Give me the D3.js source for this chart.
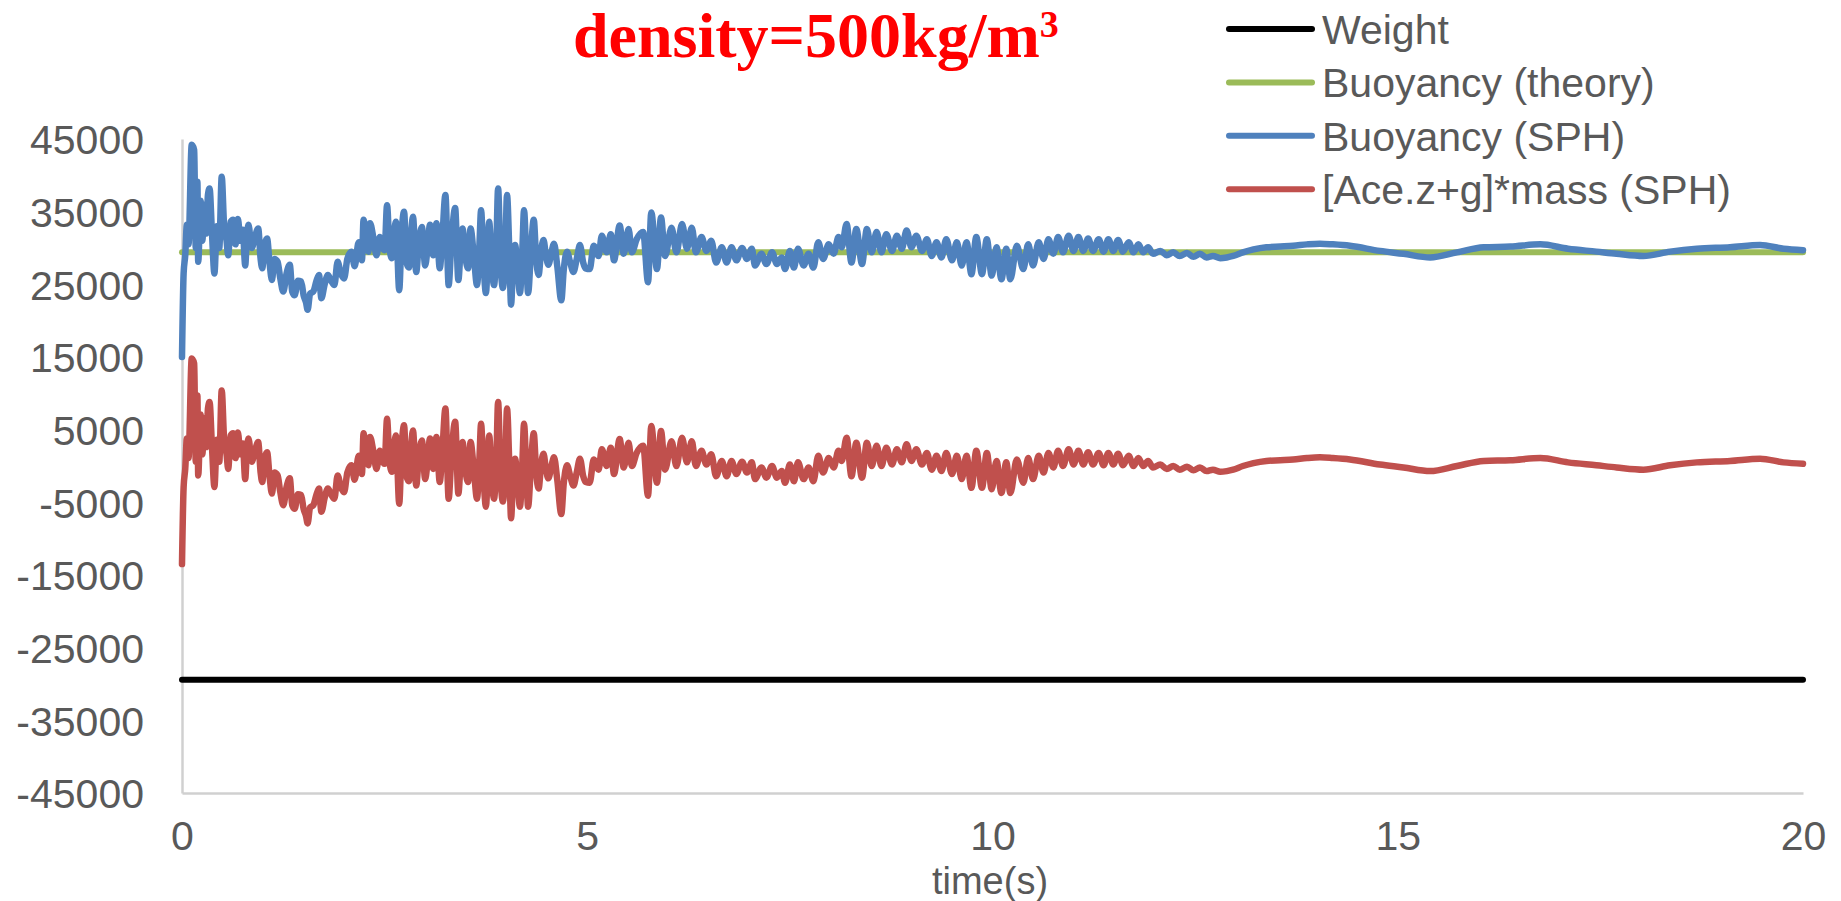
<!DOCTYPE html>
<html>
<head>
<meta charset="utf-8">
<script src="https://cdn.jsdelivr.net/npm/d3@7"></script>
<style>
  html, body { margin: 0; padding: 0; background: #ffffff; }
  svg { display: block; }
</style>
</head>
<body>
<svg id="chart" width="1841" height="901"></svg>
<script>
// Force acting on a floating body, density 500 kg/m3 (time in s, force in N)

const xTicks = [0, 5, 10, 15, 20];
const yTicks = [45000, 35000, 25000, 15000, 5000, -5000, -15000, -25000, -35000, -45000];

const seriesNames = ["Weight", "Buoyancy (theory)", "Buoyancy (SPH)", "[Ace.z+g]*mass (SPH)"];
const seriesColors = ["#000000", "#9BBB59", "#4F81BD", "#C0504D"];

// constant forces over the whole run
const weight = [[0, -29430], [20, -29430]];
const buoyancyTheory = [[0, 29430], [20, 29430]];

// SPH buoyancy [t, N]
const buoyancySPH = [
  [0, 15000], [0.02, 26500], [0.04, 29000], [0.06, 33200], [0.08, 30500], [0.12, 44200], [0.15, 43500], [0.17, 30000],
  [0.19, 39100], [0.20, 28100], [0.23, 36500], [0.25, 31000], [0.28, 36000], [0.30, 32000], [0.32, 37300], [0.34, 38200],
  [0.37, 32000], [0.40, 26500], [0.43, 33000], [0.46, 30000], [0.49, 39800], [0.52, 33000], [0.55, 31000], [0.57, 29000],
  [0.60, 33600], [0.63, 33900], [0.66, 30500], [0.69, 34000], [0.72, 31000], [0.75, 32500], [0.78, 27600], [0.80, 31500],
  [0.82, 33200], [0.86, 30000], [0.90, 31500], [0.94, 32700], [0.97, 28500], [0.99, 27200], [1.02, 30500], [1.05, 31300],
  [1.08, 28000], [1.11, 25600], [1.14, 28500], [1.18, 28100], [1.21, 26000], [1.25, 24000], [1.29, 26500], [1.33, 27700],
  [1.36, 24000], [1.39, 23500], [1.43, 25500], [1.47, 25400], [1.50, 23500], [1.53, 22500], [1.55, 21500], [1.58, 23700],
  [1.62, 24000], [1.66, 25500], [1.69, 26300], [1.72, 23100], [1.76, 25000], [1.80, 26300], [1.84, 25500], [1.88, 24900],
  [1.92, 28100], [1.96, 26500], [2.00, 25800], [2.04, 28500], [2.09, 29500], [2.13, 27500], [2.18, 30800], [2.22, 28300],
  [2.24, 33900], [2.27, 30500], [2.30, 29500], [2.32, 33400], [2.36, 31500], [2.40, 29000], [2.44, 31500], [2.46, 30400],
  [2.50, 29700], [2.53, 35900], [2.56, 30000], [2.59, 28600], [2.62, 32500], [2.64, 33600], [2.68, 24200], [2.71, 32000],
  [2.74, 35000], [2.77, 28000], [2.80, 27300], [2.83, 32500], [2.85, 34300], [2.89, 26700], [2.92, 30500], [2.96, 32900],
  [3.00, 27600], [3.03, 30000], [3.06, 33200], [3.10, 29000], [3.14, 33400], [3.18, 27200], [3.21, 31000], [3.25, 37300],
  [3.29, 24900], [3.32, 30000], [3.37, 35500], [3.41, 25600], [3.44, 30500], [3.46, 32700], [3.50, 28500], [3.53, 27200],
  [3.56, 32700], [3.60, 29000], [3.64, 24900], [3.67, 30500], [3.69, 35200], [3.72, 28000], [3.75, 23800], [3.79, 33600],
  [3.82, 28000], [3.85, 24900], [3.88, 31000], [3.90, 38200], [3.93, 28000], [3.96, 24500], [3.99, 30000], [4.01, 37300],
  [4.04, 29000], [4.06, 22200], [4.09, 29500], [4.11, 30400], [4.14, 27000], [4.17, 23800], [4.20, 30000], [4.22, 35200],
  [4.25, 28000], [4.27, 23800], [4.31, 30500], [4.34, 33900], [4.37, 28500], [4.40, 26300], [4.43, 29500], [4.46, 31100],
  [4.49, 29000], [4.52, 27700], [4.56, 29500], [4.59, 30600], [4.63, 27500], [4.68, 22800], [4.71, 27000], [4.75, 29500],
  [4.79, 28000], [4.83, 26700], [4.87, 28500], [4.91, 30400], [4.95, 28000], [4.98, 27200],
  [5.03, 27100], [5.08, 30300], [5.14, 28900], [5.18, 31700], [5.24, 29400], [5.29, 31900], [5.33, 28300], [5.40, 33100],
  [5.45, 29200], [5.51, 32600], [5.55, 29400], [5.61, 31200], [5.69, 32200], [5.75, 25300], [5.79, 34900], [5.86, 27100],
  [5.91, 34200], [5.96, 28900], [6.04, 32800], [6.10, 29400], [6.17, 33300], [6.23, 29900], [6.29, 32800], [6.34, 29400],
  [6.41, 31500], [6.47, 29600], [6.53, 31000], [6.59, 28000], [6.66, 30100], [6.72, 28000], [6.78, 30100], [6.84, 28300],
  [6.91, 30000], [6.97, 28500], [7.03, 29900], [7.07, 27600], [7.15, 29200], [7.21, 27800], [7.28, 29400], [7.34, 27800],
  [7.40, 28700], [7.44, 27100], [7.50, 29600], [7.55, 27300], [7.60, 29900], [7.67, 27600], [7.73, 29200], [7.79, 27300],
  [7.85, 30800], [7.91, 28500], [7.98, 30500], [8.04, 29200], [8.10, 31500], [8.14, 30100], [8.20, 33300], [8.26, 28000],
  [8.32, 32600], [8.39, 27800], [8.45, 32600], [8.51, 29400], [8.57, 32200], [8.63, 29400], [8.69, 31900], [8.76, 29600],
  [8.82, 31700], [8.88, 29900], [8.94, 32400], [9.00, 30100], [9.06, 31700], [9.13, 29600], [9.19, 31200], [9.25, 28900],
  [9.31, 30800], [9.37, 28700], [9.43, 31200], [9.50, 28300], [9.56, 30800], [9.62, 27600], [9.68, 30800], [9.74, 26400],
  [9.80, 31500], [9.87, 26400], [9.93, 31200], [9.99, 26200], [10.05, 30100], [10.11, 25700], [10.17, 29900],
  [10.22, 25700], [10.30, 30300], [10.38, 27100], [10.44, 30500], [10.50, 27600], [10.57, 30800], [10.63, 28500], [10.69, 31200],
  [10.75, 29200], [10.81, 31500], [10.87, 29400], [10.94, 31700], [11.00, 29600], [11.06, 31500], [11.12, 29600], [11.18, 31300],
  [11.24, 29600], [11.31, 31200], [11.37, 29500], [11.43, 31200], [11.49, 29600], [11.55, 31100], [11.61, 29500], [11.68, 30800],
  [11.74, 29400], [11.80, 30500], [11.86, 29400], [11.92, 30100], [11.98, 29200], [12.07, 29600], [12.15, 29000], [12.23, 29400],
  [12.31, 28900], [12.40, 29300], [12.48, 28800], [12.56, 29200], [12.64, 28700], [12.72, 28900], [12.81, 28600], [12.89, 28700],
  [12.97, 28900], [13.09, 29400], [13.22, 29800], [13.38, 30100], [13.55, 30200], [13.71, 30300], [13.88, 30500], [14.04, 30600],
  [14.20, 30500], [14.41, 30300], [14.78, 29600], [15.07, 29200], [15.40, 28700], [15.73, 29400], [16.06, 30100], [16.39, 30200],
  [16.76, 30500], [17.10, 29900], [17.45, 29500], [17.70, 29200], [18.03, 28900], [18.36, 29500], [18.69, 29900], [19.10, 30100],
  [19.47, 30400], [19.76, 29900], [20.00, 29700]
];

// SPH net force [Ace.z+g]*mass [t, N]
const accelMass = [
  [0, -13500], [0.02, -2900], [0.04, -400], [0.06, 3800], [0.08, 1100], [0.12, 14800], [0.15, 14100], [0.17, 600],
  [0.19, 9700], [0.20, -1300], [0.23, 7100], [0.25, 1600], [0.28, 6600], [0.30, 2600], [0.32, 7900], [0.34, 8800],
  [0.37, 2600], [0.40, -2900], [0.43, 3600], [0.46, 600], [0.49, 10400], [0.52, 3600], [0.55, 1600], [0.57, -400],
  [0.60, 4200], [0.63, 4500], [0.66, 1100], [0.69, 4600], [0.72, 1600], [0.75, 3100], [0.78, -1800], [0.80, 2100],
  [0.82, 3800], [0.86, 600], [0.90, 2100], [0.94, 3300], [0.97, -900], [0.99, -2200], [1.02, 1100], [1.05, 1900],
  [1.08, -1400], [1.11, -3800], [1.14, -900], [1.18, -1300], [1.21, -3400], [1.25, -5400], [1.29, -2900], [1.33, -1700],
  [1.36, -5400], [1.39, -5900], [1.43, -3900], [1.47, -4000], [1.50, -5900], [1.53, -6900], [1.55, -7900], [1.58, -5700],
  [1.62, -5400], [1.66, -3900], [1.69, -3100], [1.72, -6300], [1.76, -4400], [1.80, -3100], [1.84, -3900], [1.88, -4500],
  [1.92, -1300], [1.96, -2900], [2.00, -3600], [2.04, -900], [2.09, 100], [2.13, -1900], [2.18, 1400], [2.22, -1100],
  [2.24, 4500], [2.27, 1100], [2.30, 100], [2.32, 4000], [2.36, 2100], [2.40, -400], [2.44, 2100], [2.46, 1000],
  [2.50, 300], [2.53, 6500], [2.56, 600], [2.59, -800], [2.62, 3100], [2.64, 4200], [2.68, -5200], [2.71, 2600],
  [2.74, 5600], [2.77, -1400], [2.80, -2100], [2.83, 3100], [2.85, 4900], [2.89, -2700], [2.92, 1100], [2.96, 3500],
  [3.00, -1800], [3.03, 600], [3.06, 3800], [3.10, -400], [3.14, 4000], [3.18, -2200], [3.21, 1600], [3.25, 7900],
  [3.29, -4500], [3.32, 600], [3.37, 6100], [3.41, -3800], [3.44, 1100], [3.46, 3300], [3.50, -900], [3.53, -2200],
  [3.56, 3300], [3.60, -400], [3.64, -4500], [3.67, 1100], [3.69, 5800], [3.72, -1400], [3.75, -5600], [3.79, 4200],
  [3.82, -1400], [3.85, -4500], [3.88, 1600], [3.90, 8800], [3.93, -1400], [3.96, -4900], [3.99, 600], [4.01, 7900],
  [4.04, -400], [4.06, -7200], [4.09, 100], [4.11, 1000], [4.14, -2400], [4.17, -5600], [4.20, 600], [4.22, 5800],
  [4.25, -1400], [4.27, -5600], [4.31, 1100], [4.34, 4500], [4.37, -900], [4.40, -3100], [4.43, 100], [4.46, 1700],
  [4.49, -400], [4.52, -1700], [4.56, 100], [4.59, 1200], [4.63, -1900], [4.68, -6600], [4.71, -2400], [4.75, 100],
  [4.79, -1400], [4.83, -2700], [4.87, -900], [4.91, 1000], [4.95, -1400], [4.98, -2200],
  [5.03, -2300], [5.08, 900], [5.14, -500], [5.18, 2300], [5.24, 0], [5.29, 2500], [5.33, -1100], [5.40, 3700],
  [5.45, -200], [5.51, 3200], [5.55, 0], [5.61, 1800], [5.69, 2800], [5.75, -4100], [5.79, 5500], [5.86, -2300],
  [5.91, 4800], [5.96, -500], [6.04, 3400], [6.10, 0], [6.17, 3900], [6.23, 500], [6.29, 3400], [6.34, 0],
  [6.41, 2100], [6.47, 200], [6.53, 1600], [6.59, -1400], [6.66, 700], [6.72, -1400], [6.78, 700], [6.84, -1100],
  [6.91, 600], [6.97, -900], [7.03, 500], [7.07, -1800], [7.15, -200], [7.21, -1600], [7.28, 0], [7.34, -1600],
  [7.40, -700], [7.44, -2300], [7.50, 200], [7.55, -2100], [7.60, 500], [7.67, -1800], [7.73, -200], [7.79, -2100],
  [7.85, 1400], [7.91, -900], [7.98, 1100], [8.04, -200], [8.10, 2100], [8.14, 700], [8.20, 3900], [8.26, -1400],
  [8.32, 3200], [8.39, -1600], [8.45, 3200], [8.51, 0], [8.57, 2800], [8.63, 0], [8.69, 2500], [8.76, 200],
  [8.82, 2300], [8.88, 500], [8.94, 3000], [9.00, 700], [9.06, 2300], [9.13, 200], [9.19, 1800], [9.25, -500],
  [9.31, 1400], [9.37, -700], [9.43, 1800], [9.50, -1100], [9.56, 1400], [9.62, -1800], [9.68, 1400], [9.74, -3000],
  [9.80, 2100], [9.87, -3000], [9.93, 1800], [9.99, -3200], [10.05, 700], [10.11, -3700], [10.17, 500],
  [10.22, -3700], [10.30, 900], [10.38, -2300], [10.44, 1100], [10.50, -1800], [10.57, 1400], [10.63, -900], [10.69, 1800],
  [10.75, -200], [10.81, 2100], [10.87, 0], [10.94, 2300], [11.00, 200], [11.06, 2100], [11.12, 200], [11.18, 1900],
  [11.24, 200], [11.31, 1800], [11.37, 100], [11.43, 1800], [11.49, 200], [11.55, 1700], [11.61, 100], [11.68, 1400],
  [11.74, 0], [11.80, 1100], [11.86, 0], [11.92, 700], [11.98, -200], [12.07, 200], [12.15, -400], [12.23, 0],
  [12.31, -500], [12.40, -100], [12.48, -600], [12.56, -200], [12.64, -700], [12.72, -500], [12.81, -800], [12.89, -700],
  [12.97, -500], [13.09, 0], [13.22, 400], [13.38, 700], [13.55, 800], [13.71, 900], [13.88, 1100], [14.04, 1200],
  [14.20, 1100], [14.41, 900], [14.78, 200], [15.07, -200], [15.40, -700], [15.73, 0], [16.06, 700], [16.39, 800],
  [16.76, 1100], [17.10, 500], [17.45, 100], [17.70, -200], [18.03, -500], [18.36, 100], [18.69, 500], [19.10, 700],
  [19.47, 1000], [19.76, 500], [20.00, 300]
];

const seriesData = [weight, buoyancyTheory, buoyancySPH, accelMass];
const seriesWidths = [6, 6, 6.5, 6.5];

const svg = d3.select("#chart");
const textColor = "#595959";
const axisColor = "#d0d0d0";
const sans = "'Liberation Sans', Arial, sans-serif";

const x = d3.scaleLinear().domain([0, 20]).range([182, 1803]);
const y = d3.scaleLinear().domain([-45000, 45000]).range([793, 139]);

// axes: no tick marks, light grey axis lines, plain hyphen minus signs
const yAxis = d3.axisLeft(y).tickValues(yTicks).tickSize(0).tickPadding(38).tickFormat(d => String(d));
const xAxis = d3.axisBottom(x).tickValues(xTicks).tickSize(0).tickPadding(28).tickFormat(d => String(d));

const gy = svg.append("g").attr("transform", `translate(${x(0)},0)`).call(yAxis);
const gx = svg.append("g").attr("transform", `translate(0,${y(-45000)})`).call(xAxis);

[gx, gy].forEach(g => {
  g.select(".domain").attr("stroke", axisColor).attr("stroke-width", 2.5);
  g.selectAll("text")
    .attr("fill", textColor)
    .attr("font-family", sans)
    .attr("font-size", 41);
});
gy.selectAll("text").attr("dy", "0.36em");
gx.selectAll("text").attr("dy", "0.71em");

// x axis title
svg.append("text")
  .attr("x", 990).attr("y", 894)
  .attr("text-anchor", "middle")
  .attr("fill", textColor)
  .attr("font-family", sans)
  .attr("font-size", 38)
  .text("time(s)");

// series lines
const line = d3.line().x(d => x(d[0])).y(d => y(d[1])).curve(d3.curveMonotoneX);
const plot = svg.append("g");
seriesData.forEach((data, i) => {
  plot.append("path")
    .datum(data)
    .attr("d", line)
    .attr("fill", "none")
    .attr("stroke", seriesColors[i])
    .attr("stroke-width", seriesWidths[i])
    .attr("stroke-linejoin", "round")
    .attr("stroke-linecap", "round");
});

// legend
const legend = svg.append("g");
seriesNames.forEach((name, i) => {
  const ly = 29 + i * 53.4;
  legend.append("line")
    .attr("x1", 1229).attr("x2", 1312)
    .attr("y1", ly).attr("y2", ly)
    .attr("stroke", seriesColors[i])
    .attr("stroke-width", 6)
    .attr("stroke-linecap", "round");
  legend.append("text")
    .attr("x", 1322).attr("y", ly)
    .attr("dy", "0.36em")
    .attr("fill", textColor)
    .attr("font-family", sans)
    .attr("font-size", 41)
    .text(name);
});

// title
const title = svg.append("text")
  .attr("x", 573).attr("y", 57)
  .attr("fill", "#FF0000")
  .attr("font-family", "'Liberation Serif', 'Times New Roman', serif")
  .attr("font-weight", "bold")
  .attr("font-size", 64);
title.append("tspan").text("density=500kg/m");
title.append("tspan").attr("font-size", 38).attr("dy", -20).text("3");
</script>
</body>
</html>
